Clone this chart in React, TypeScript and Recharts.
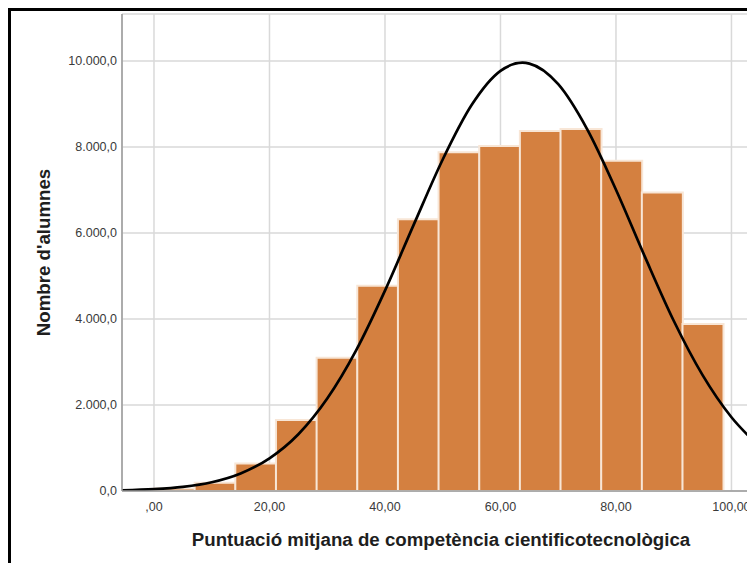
import { ComposedChart, Bar, Line, XAxis, YAxis, CartesianGrid } from 'recharts';

// histogram bins (centre of each bin) and number of students
const binMid = [3.52, 10.56, 17.6, 24.64, 31.68, 38.72, 45.76, 52.8, 59.84, 66.88, 73.92, 80.96, 88.0, 95.04];
const binCount = [60, 190, 640, 1650, 3100, 4775, 6320, 7875, 8025, 8370, 8420, 7680, 6940, 3885];

// normal curve
const curveX = [-5.5, 0, 5, 10, 15, 20, 25, 30, 35, 40, 45, 50, 55, 60, 63.8, 65, 70, 75, 80, 85, 90, 95, 100, 105];
const curveY = [15, 42, 96, 204, 408, 760, 1320, 2150, 3270, 4660, 6200, 7710, 8975, 9770, 9960, 9940, 9460, 8415, 7005, 5450, 3960, 2695, 1715, 1020];

const xTicks = [0, 20, 40, 60, 80, 100];
const yTicks = [0, 2000, 4000, 6000, 8000, 10000];

const bars = binMid.map((m, i) => ({ mid: m, count: binCount[i] }));
const curve = curveX.map((x, i) => ({ x, y: curveY[i] }));

const fmtX = (v: number) => (v === 0 ? ',00' : `${v},00`);
const fmtY = (v: number) => {
  const s = String(Math.round(v)).replace(/\B(?=(\d{3})+(?!\d))/g, '.');
  return `${s},0`;
};

const font = '"Liberation Sans", Arial, sans-serif';
const tickStyle = { fill: '#3a3a3a', fontSize: 12.5, fontFamily: font };
const titleStyle = { fill: '#1e1e1e', fontSize: 18.7, fontWeight: 'bold', fontFamily: font };

export default function App() {
  return (
    <>
      <style>{'body{overflow:hidden}'}</style>
      <div
        style={{
          width: 747,
          height: 555,
          boxSizing: 'border-box',
          borderTop: '3px solid #000',
          borderLeft: '3px solid #000',
          overflow: 'hidden',
          background: '#fff',
          fontFamily: font,
        }}
      >
        <ComposedChart
          width={760}
          height={552}
          data={bars}
          margin={{ top: 3, right: 11, left: 0, bottom: 0 }}
          barCategoryGap={0}
        >
          <CartesianGrid stroke="#d9d9d9" strokeWidth={1.5} />
          <XAxis
            dataKey="mid"
            type="number"
            domain={[-5.54, 104.94]}
            allowDataOverflow
            ticks={xTicks}
            tickFormatter={fmtX}
            tick={tickStyle}
            tickLine={false}
            tickSize={0}
            tickMargin={11}
            height={72}
            stroke="#9a9a9a"
            strokeWidth={1.5}
            label={{
              value: 'Puntuació mitjana de competència cientificotecnològica',
              position: 'insideBottom',
              offset: 17,
              style: titleStyle,
            }}
          />
          <XAxis xAxisId="c" dataKey="x" type="number" domain={[-5.54, 104.94]} allowDataOverflow hide />
          <YAxis
            type="number"
            domain={[0, 11093]}
            allowDataOverflow
            ticks={yTicks}
            tickFormatter={fmtY}
            tick={tickStyle}
            tickLine={false}
            tickSize={0}
            tickMargin={5}
            width={111}
            stroke="#9a9a9a"
            strokeWidth={1.5}
            label={{
              value: "Nombre d'alumnes",
              angle: -90,
              position: 'insideLeft',
              offset: 32,
              style: { ...titleStyle, textAnchor: 'middle' },
            }}
          />
          <Bar dataKey="count" fill="#d48040" stroke="#f8e6d6" strokeWidth={2} isAnimationActive={false} />
          <Line
            xAxisId="c"
            data={curve}
            dataKey="y"
            type="monotone"
            stroke="#000"
            strokeWidth={2.7}
            dot={false}
            isAnimationActive={false}
          />
        </ComposedChart>
      </div>
    </>
  );
}
